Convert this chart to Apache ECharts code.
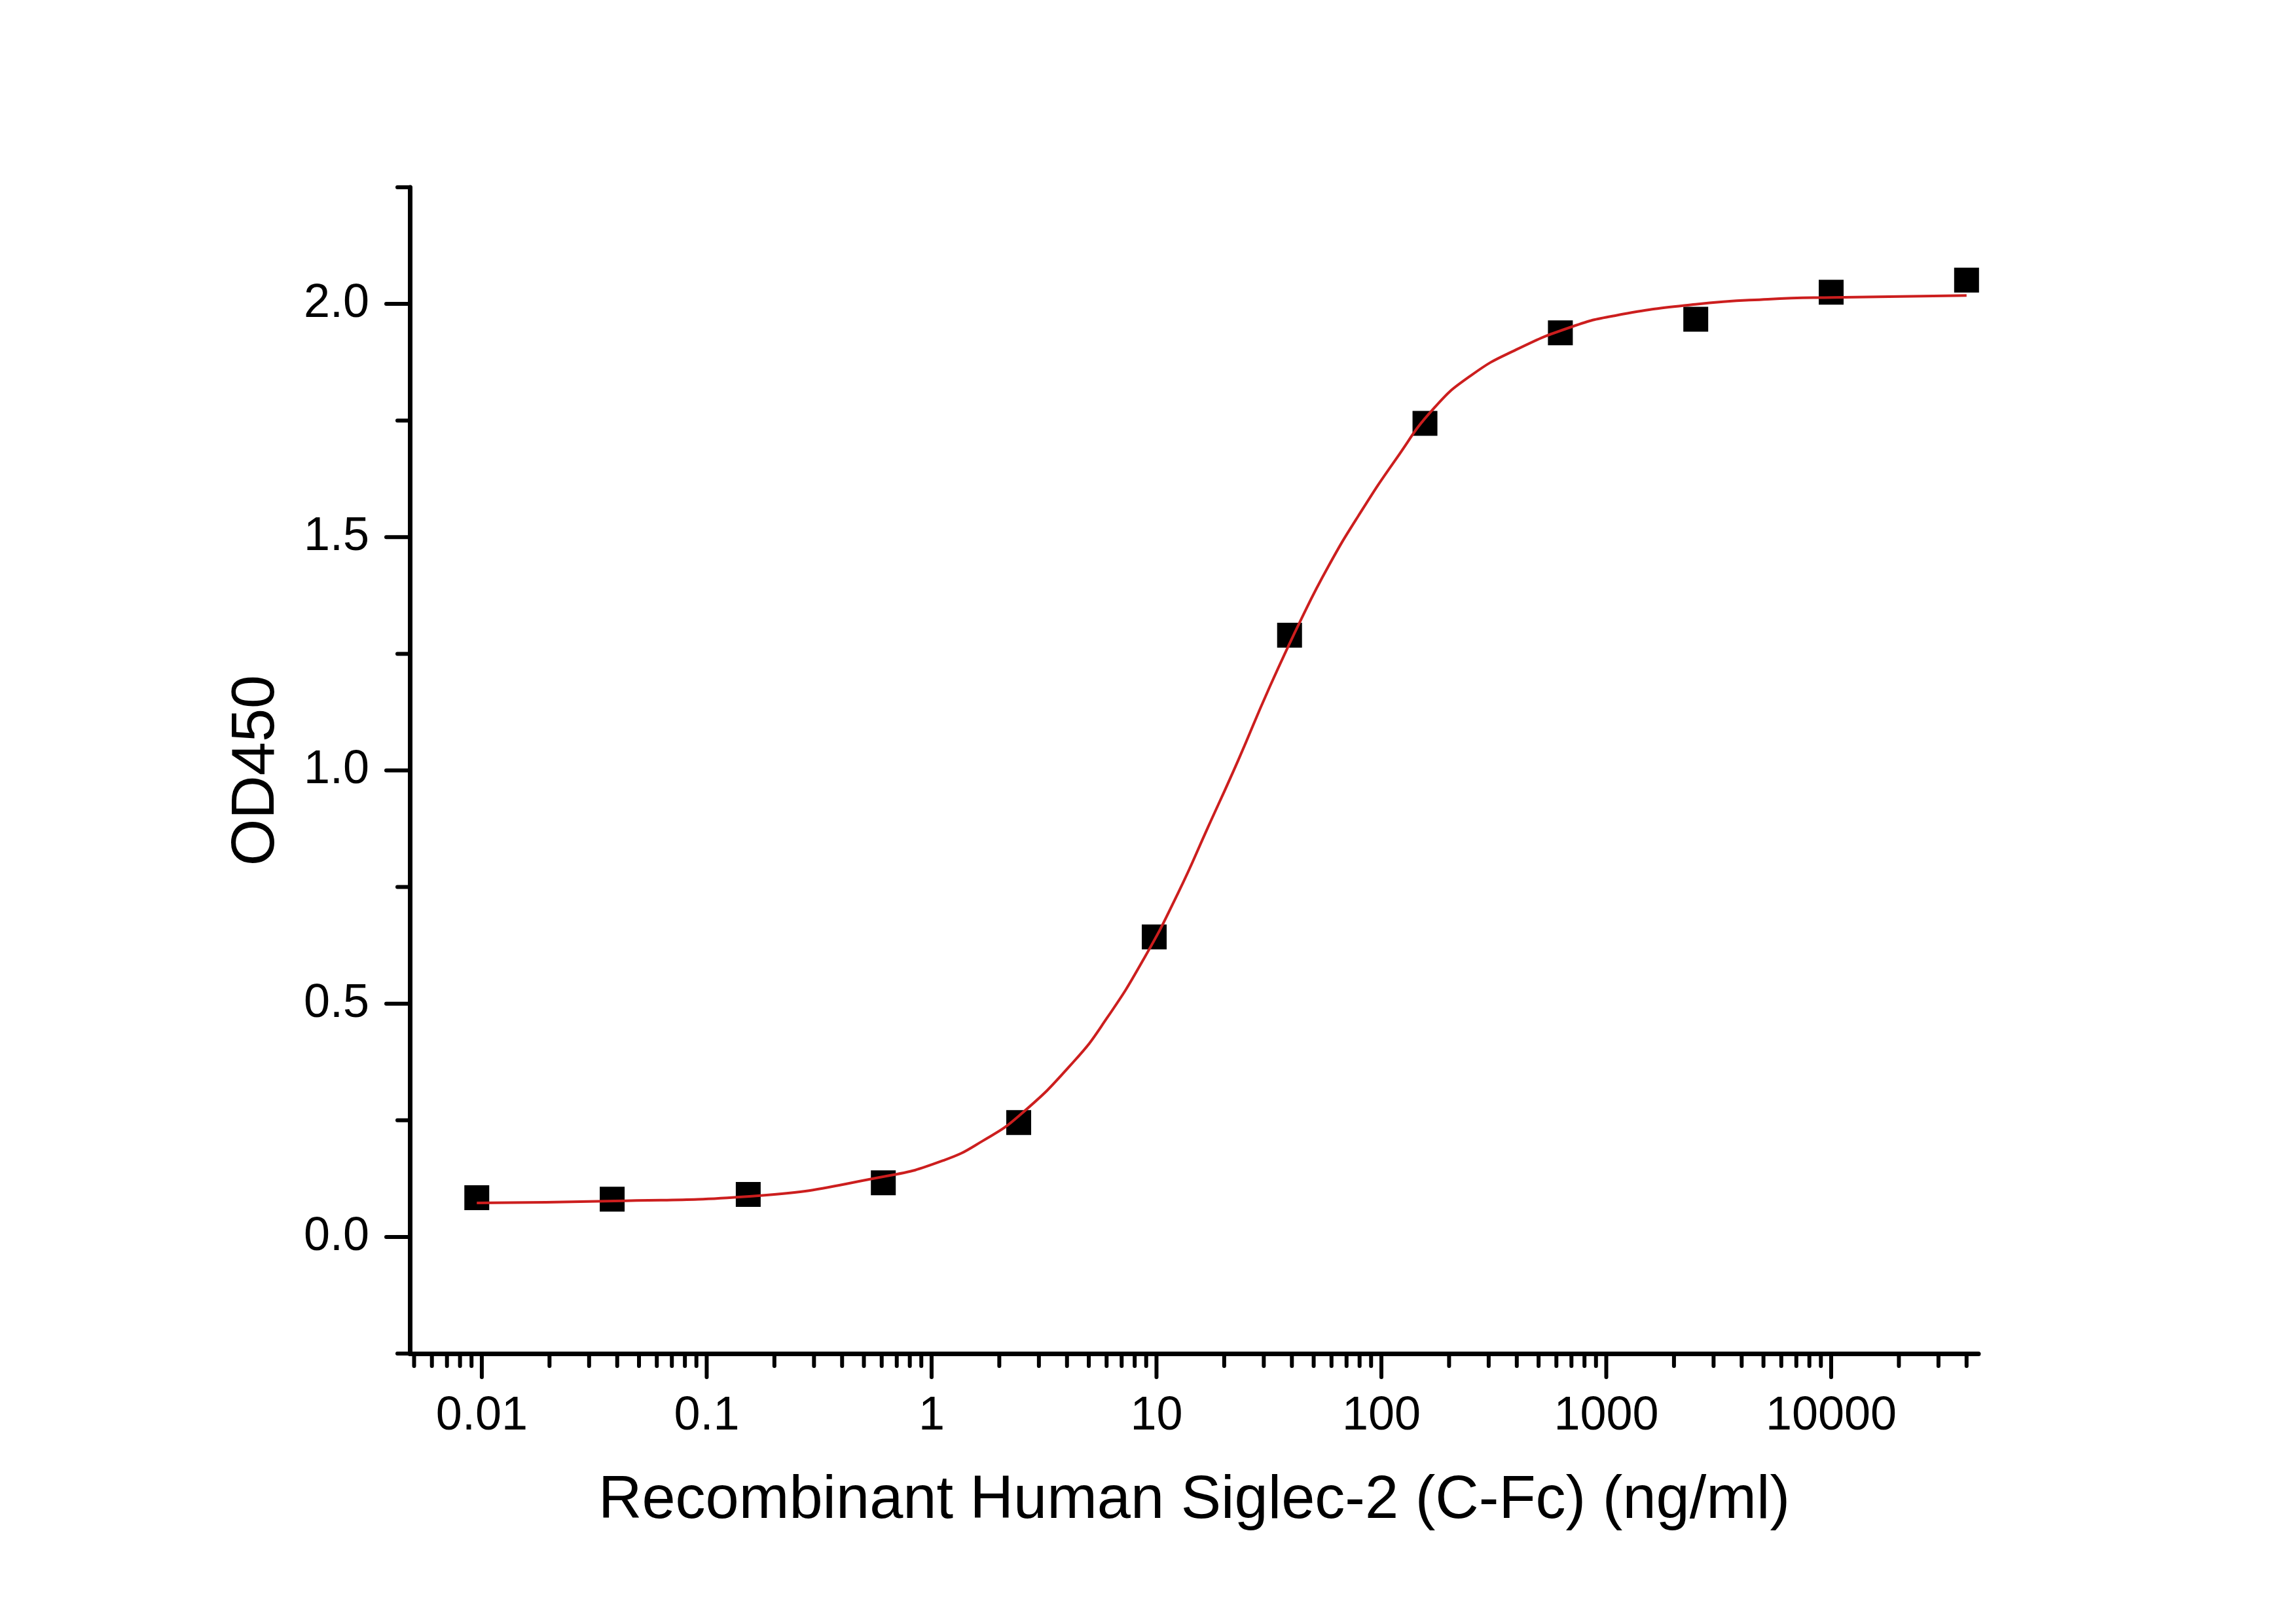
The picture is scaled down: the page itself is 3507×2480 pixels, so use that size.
<!DOCTYPE html>
<html>
<head>
<meta charset="utf-8">
<script src="https://cdn.jsdelivr.net/npm/echarts@6/dist/echarts.min.js"></script>
<style>
  html, body { margin: 0; padding: 0; background: #fff; }
  #chart { width: 3507px; height: 2480px; }
</style>
</head>
<body>
<div id="chart"></div>
<script>
// measured points (ng/ml, OD450)
const conc = [0.0095, 0.038, 0.153, 0.61, 2.44, 9.77, 39.06, 156.25, 625, 2500, 10000, 40000]
const od450 = [0.084, 0.081, 0.091, 0.116, 0.245, 0.643, 1.29, 1.744, 1.938, 1.967, 2.025, 2.051]

// fitted curve
const curveConc = [0.0095, 0.039, 0.155, 0.624, 1.13, 1.69, 2.48, 4.27, 6.0, 8.85, 12.5, 16.9, 23.1, 31.4, 44.5, 58.2, 79.1, 116, 171, 251, 398, 703, 1096, 2489, 5224, 10233, 40000]
const curveOd = [0.073, 0.077, 0.087, 0.130, 0.164, 0.206, 0.262, 0.375, 0.468, 0.599, 0.738, 0.877, 1.022, 1.172, 1.329, 1.438, 1.546, 1.667, 1.776, 1.847, 1.902, 1.951, 1.975, 1.999, 2.010, 2.014, 2.018]

// axis ticks
const xMajorTicks = [0.01, 0.1, 1, 10, 100, 1000, 10000]
const xTickLabels = ['0.01', '0.1', '1', '10', '100', '1000', '10000']
const minorMultipliers = [2, 3, 4, 5, 6, 7, 8, 9]
const yMajorTicks = [0, 0.5, 1.0, 1.5, 2.0]
const yMinorTicks = [-0.25, 0.25, 0.75, 1.25, 1.75, 2.25]

const X_MIN = -2.32   // log10 units
const X_MAX = 4.655
const Y_MIN = -0.25
const Y_MAX = 2.25

const lg = (v) => Math.log10(v)

// log minor ticks inside the axis range
const xMinorTicks = []
for (let e = -3; e <= 4; e++) {
  minorMultipliers.forEach((m) => {
    const v = m * Math.pow(10, e)
    if (lg(v) >= X_MIN && lg(v) <= X_MAX) xMinorTicks.push(v)
  })
}

const MAJOR_LEN = 36
const MINOR_LEN = 19
const TICK_W = 6

const xTickData = [
  ...xMajorTicks.map((v) => [lg(v), Y_MIN, MAJOR_LEN]),
  ...xMinorTicks.map((v) => [lg(v), Y_MIN, MINOR_LEN]),
]
const yTickData = [
  ...yMajorTicks.map((v) => [X_MIN, v, MAJOR_LEN]),
  ...yMinorTicks.map((v) => [X_MIN, v, MINOR_LEN]),
]

const font = 'Liberation Sans, Arial, sans-serif'

const chart = echarts.init(document.getElementById('chart'), null, { renderer: 'canvas' })

const option = {
  backgroundColor: '#fff',
  animation: false,
  grid: {
    left: 626,
    right: 485,
    top: 286,
    bottom: 413,
  },
  xAxis: {
    type: 'value',
    min: X_MIN,
    max: X_MAX,
    splitNumber: 5,
    name: 'Recombinant Human Siglec-2 (C-Fc) (ng/ml)',
    nameLocation: 'middle',
    nameGap: 180,
    nameTextStyle: { fontFamily: font, fontSize: 92, color: '#000' },
    axisLine: { onZero: false, lineStyle: { color: '#000', width: 7 } },
    axisTick: { show: false },
    splitLine: { show: false },
    axisLabel: {
      margin: 60,
      fontFamily: font,
      fontSize: 72,
      color: '#000',
      formatter: (v) => {
        const i = xMajorTicks.findIndex((t) => Math.abs(lg(t) - v) < 1e-6)
        return i >= 0 ? xTickLabels[i] : ''
      },
    },
  },
  yAxis: {
    type: 'value',
    min: Y_MIN,
    max: Y_MAX,
    splitNumber: 5,
    name: 'OD450',
    nameLocation: 'middle',
    nameGap: 187,
    nameTextStyle: { fontFamily: font, fontSize: 92, color: '#000' },
    axisLine: { onZero: false, lineStyle: { color: '#000', width: 7 } },
    axisTick: { show: false },
    splitLine: { show: false },
    axisLabel: {
      margin: 62,
      fontFamily: font,
      fontSize: 72,
      color: '#000',
      formatter: (v) => {
        const hit = yMajorTicks.some((t) => Math.abs(t - v) < 1e-6)
        return hit ? v.toFixed(1) : ''
      },
    },
  },
  series: [
    // tick marks on the x axis
    {
      type: 'custom',
      silent: true,
      clip: false,
      z: 1,
      data: xTickData,
      renderItem: (params, api) => {
        const p = api.coord([api.value(0), api.value(1)])
        const len = api.value(2)
        return {
          type: 'line',
          shape: { x1: p[0], y1: p[1], x2: p[0], y2: p[1] + len },
          style: { stroke: '#000', lineWidth: TICK_W, lineCap: 'round' },
        }
      },
    },
    // tick marks on the y axis
    {
      type: 'custom',
      silent: true,
      clip: false,
      z: 1,
      data: yTickData,
      renderItem: (params, api) => {
        const p = api.coord([api.value(0), api.value(1)])
        const len = api.value(2)
        return {
          type: 'line',
          shape: { x1: p[0], y1: p[1], x2: p[0] - len, y2: p[1] },
          style: { stroke: '#000', lineWidth: TICK_W, lineCap: 'round' },
        }
      },
    },
    // data points
    {
      type: 'scatter',
      symbol: 'rect',
      symbolSize: 38,
      z: 2,
      itemStyle: { color: '#000', opacity: 1 },
      data: conc.map((c, i) => [lg(c), od450[i]]),
    },
    // fitted curve
    {
      type: 'line',
      smooth: 0.5,
      showSymbol: false,
      z: 3,
      lineStyle: { color: '#cc1e1e', width: 4 },
      data: curveConc.map((c, i) => [lg(c), curveOd[i]]),
    },
  ],
}

chart.setOption(option)
</script>
</body>
</html>
